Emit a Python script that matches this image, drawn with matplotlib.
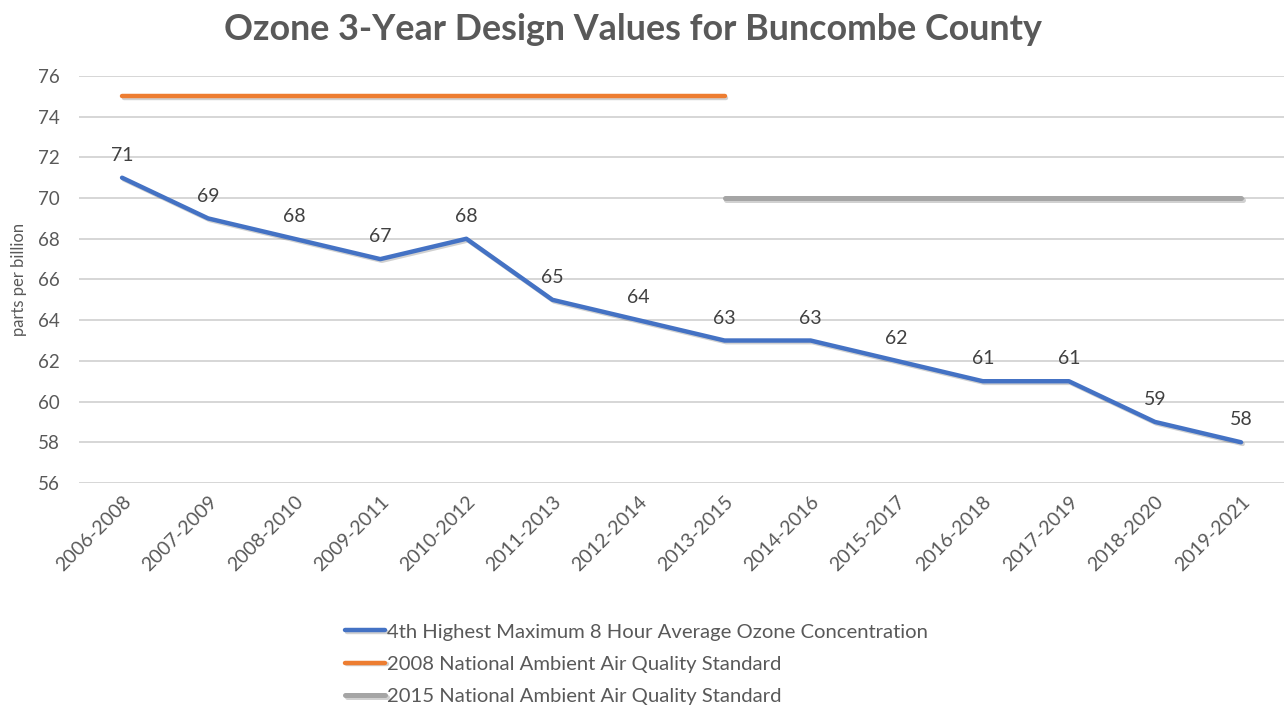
import matplotlib.pyplot as plt
import matplotlib.patheffects as pe

periods = ["2006-2008", "2007-2009", "2008-2010", "2009-2011", "2010-2012",
           "2011-2013", "2012-2014", "2013-2015", "2014-2016", "2015-2017",
           "2016-2018", "2017-2019", "2018-2020", "2019-2021"]
ozone = [71, 69, 68, 67, 68, 65, 64, 63, 63, 62, 61, 61, 59, 58]
std_2008 = [75, 75, 75, 75, 75, 75, 75, 75, None, None, None, None, None, None]
std_2015 = [None, None, None, None, None, None, None, 70, 70, 70, 70, 70, 70, 70]

plt.rcParams['font.family'] = ['Lato', 'DejaVu Sans']
txt = '#595959'

fig = plt.figure(figsize=(12.87, 7.06), dpi=100)
ax = fig.add_axes([0.0614, 0.3159, 0.9363, 0.5765])

x = list(range(len(periods)))
shadow = [pe.SimpleLineShadow(offset=(1.2, -1.2), alpha=0.18), pe.Normal()]

ax.plot(x, ozone, color='#4472C4', lw=3.2, solid_capstyle='round',
        label='4th Highest Maximum 8 Hour Average Ozone Concentration', path_effects=shadow, zorder=3)
ax.plot(x, [v if v is not None else float('nan') for v in std_2008], color='#ED7D31', lw=3.2,
        solid_capstyle='round', label='2008 National Ambient Air Quality Standard', path_effects=shadow, zorder=3)
ax.plot(x, [v if v is not None else float('nan') for v in std_2015], color='#A5A5A5', lw=3.6,
        solid_capstyle='round', label='2015 National Ambient Air Quality Standard', path_effects=shadow, zorder=3)

for i, v in enumerate(ozone):
    ax.annotate(str(v), (i, v), xytext=(0, 10), textcoords='offset points',
                ha='center', va='bottom', fontsize=14, color='#404040')

ax.set_xlim(-0.5, len(periods) - 0.5)
ax.set_ylim(56, 76)
ax.set_yticks(range(56, 77, 2))
ax.set_xticks(x)
ax.set_xticklabels(periods, rotation=45, ha='right', rotation_mode='anchor', fontsize=14, color=txt)
ax.tick_params(axis='y', labelsize=13.5, labelcolor=txt, length=0, pad=14)
ax.tick_params(axis='x', length=0, pad=7)
ax.grid(axis='y', color='#D0D0D0', lw=1.2)
ax.set_axisbelow(True)
for s in ax.spines.values():
    s.set_visible(False)
ax.set_ylabel('parts per billion', fontsize=12, color=txt, labelpad=8)

fig.suptitle('Ozone 3-Year Design Values for Buncombe County', x=0.492, y=0.982,
             fontsize=25.8, fontweight='bold', color=txt)

fig.legend(loc='upper left', bbox_to_anchor=(0.268, 0.117), frameon=False, fontsize=14.6,
           handlelength=2.0, handletextpad=0.1, labelspacing=0.74, labelcolor=txt,
           borderaxespad=0, borderpad=0)

fig.savefig('out.png', dpi=100)
